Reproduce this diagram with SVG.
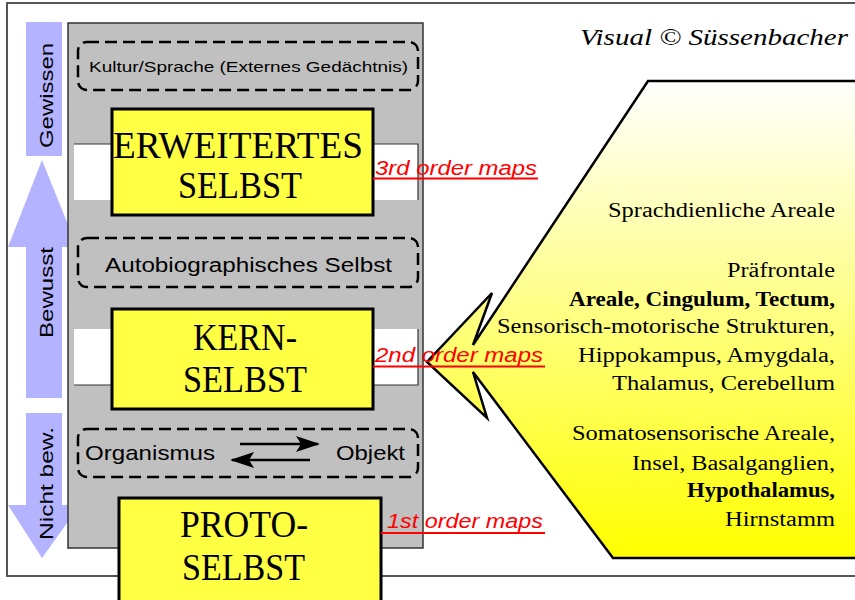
<svg xmlns="http://www.w3.org/2000/svg" width="855" height="600" viewBox="0 0 855 600">
<style>
.sans{font-family:"Liberation Sans",Arial,sans-serif;fill:#000}
.serif{font-family:"Liberation Serif","Times New Roman",serif;fill:#000}
.big{font-family:"Liberation Serif","Times New Roman",serif;font-size:38px;fill:#000}
.red{font-family:"Liberation Sans",Arial,sans-serif;font-style:italic;font-size:20px;fill:#ff0000}
.ul{stroke:#ff0000;stroke-width:2}
.dash{fill:none;stroke:#000;stroke-width:2.5;stroke-dasharray:12 6}
.ybox{fill:#ffff44;stroke:#000;stroke-width:3}
.lav{fill:#b3b3ff}
.area{font-family:"Liberation Serif","Times New Roman",serif;font-size:20px;fill:#000}
</style>
<defs>
<linearGradient id="yg" x1="0" y1="0" x2="0" y2="1">
<stop offset="0" stop-color="#ffffff"/>
<stop offset="1" stop-color="#ffff00"/>
</linearGradient>
<marker id="ah" viewBox="0 0 24 18" refX="22" refY="9" markerWidth="24" markerHeight="18" markerUnits="userSpaceOnUse" orient="auto">
<path d="M0,1 L24,9 L0,17 L5,9 Z" fill="#000"/>
</marker>
</defs>
<rect width="855" height="600" fill="#fff"/>
<path d="M860,3 H7 V576 H860" fill="none" stroke="#555" stroke-width="2"/>

<g id="scale">
<rect class="lav" x="26" y="22" width="36" height="134"/>
<polygon class="lav" points="42,160 8,247 77,247"/>
<rect class="lav" x="26" y="246" width="36" height="152"/>
<rect class="lav" x="26" y="413" width="36" height="93"/>
<polygon class="lav" points="8,505 80,505 42,558"/>
<text class="sans" font-size="19" transform="translate(53,148) rotate(-90)" textLength="105" lengthAdjust="spacingAndGlyphs">Gewissen</text>
<text class="sans" font-size="19" transform="translate(53,338) rotate(-90)" textLength="91" lengthAdjust="spacingAndGlyphs">Bewusst</text>
<text class="sans" font-size="19" transform="translate(53,540) rotate(-90)" textLength="113" lengthAdjust="spacingAndGlyphs">Nicht bew.</text>
</g>

<g id="panel">
<rect x="68" y="23" width="355" height="525" fill="#c0c0c0" stroke="#333" stroke-width="1.5"/>
<rect x="74" y="144" width="344" height="56" fill="#fff"/>
<path d="M74,144 H418 V200" fill="none" stroke="#333" stroke-width="1.2"/>
<rect x="74" y="329" width="344" height="56" fill="#fff"/>
<path d="M74,385 H112 M418,329 V385 H373" fill="none" stroke="#333" stroke-width="1.2"/>
</g>

<g id="kultur">
<rect class="dash" x="78" y="42" width="340" height="48" rx="9"/>
<text class="sans" font-size="15" x="89" y="72" textLength="319" lengthAdjust="spacingAndGlyphs">Kultur/Sprache (Externes Gedächtnis)</text>
</g>

<g id="erweitertes">
<rect class="ybox" x="112" y="109" width="261" height="106"/>
<text class="big" x="113" y="158" textLength="250" lengthAdjust="spacingAndGlyphs">ERWEITERTES</text>
<text class="big" x="178" y="198" textLength="124" lengthAdjust="spacingAndGlyphs">SELBST</text>
</g>

<g id="autobio">
<rect class="dash" x="78" y="238" width="340" height="49" rx="9"/>
<text class="sans" font-size="20" x="105" y="272" textLength="287" lengthAdjust="spacingAndGlyphs">Autobiographisches Selbst</text>
</g>

<g id="kern">
<rect class="ybox" x="112" y="309" width="261" height="100"/>
<text class="big" x="193" y="350" textLength="104" lengthAdjust="spacingAndGlyphs">KERN-</text>
<text class="big" x="183" y="392" textLength="124" lengthAdjust="spacingAndGlyphs">SELBST</text>
</g>

<g id="organismus">
<rect class="dash" x="78" y="429" width="340" height="48" rx="9"/>
<text class="sans" font-size="21" x="85" y="460" textLength="130" lengthAdjust="spacingAndGlyphs">Organismus</text>
<text class="sans" font-size="21" x="336" y="460" textLength="69" lengthAdjust="spacingAndGlyphs">Objekt</text>
</g>

<g id="proto">
<rect class="ybox" x="119" y="498" width="262" height="110"/>
<text class="big" x="180" y="537" textLength="128" lengthAdjust="spacingAndGlyphs">PROTO-</text>
<text class="big" x="182" y="580" textLength="123" lengthAdjust="spacingAndGlyphs">SELBST</text>
</g>

<g id="connectors">
<line x1="240" y1="444" x2="318" y2="444" stroke="#000" stroke-width="2.5" marker-end="url(#ah)"/>
<line x1="310" y1="460" x2="232" y2="460" stroke="#000" stroke-width="2.5" marker-end="url(#ah)"/>
</g>

<g id="areas">
<polygon points="648,81 860,81 860,558 613,558 473,372 487,418 427,362 492,293 473,345" fill="url(#yg)" stroke="#000" stroke-width="2.5" stroke-linejoin="miter"/>
<text class="area" x="608" y="217" textLength="227" lengthAdjust="spacingAndGlyphs">Sprachdienliche Areale</text>
<text class="area" x="727" y="277" textLength="108" lengthAdjust="spacingAndGlyphs">Präfrontale</text>
<text class="area" x="569" y="306" font-weight="bold" textLength="266" lengthAdjust="spacingAndGlyphs">Areale, Cingulum, Tectum,</text>
<text class="area" x="497" y="333" textLength="338" lengthAdjust="spacingAndGlyphs">Sensorisch-motorische Strukturen,</text>
<text class="area" x="578" y="362" textLength="257" lengthAdjust="spacingAndGlyphs">Hippokampus, Amygdala,</text>
<text class="area" x="612" y="390" textLength="223" lengthAdjust="spacingAndGlyphs">Thalamus, Cerebellum</text>
<text class="area" x="572" y="440" textLength="263" lengthAdjust="spacingAndGlyphs">Somatosensorische Areale,</text>
<text class="area" x="632" y="470" textLength="203" lengthAdjust="spacingAndGlyphs">Insel, Basalganglien,</text>
<text class="area" x="687" y="497" font-weight="bold" textLength="148" lengthAdjust="spacingAndGlyphs">Hypothalamus,</text>
<text class="area" x="725" y="526" textLength="110" lengthAdjust="spacingAndGlyphs">Hirnstamm</text>
</g>

<g id="maps">
<text class="red" x="375" y="175" textLength="162" lengthAdjust="spacingAndGlyphs">3rd order maps</text>
<line class="ul" x1="373" y1="178.5" x2="538" y2="178.5"/>
<text class="red" x="375" y="362" textLength="168" lengthAdjust="spacingAndGlyphs">2nd order maps</text>
<line class="ul" x1="373" y1="366.5" x2="545" y2="366.5"/>
<text class="red" x="387" y="528" textLength="156" lengthAdjust="spacingAndGlyphs">1st order maps</text>
<line class="ul" x1="381" y1="533" x2="545" y2="533" stroke-width="4"/>
</g>

<text class="serif" font-style="italic" font-size="24" x="580" y="45" textLength="268" lengthAdjust="spacingAndGlyphs">Visual © Süssenbacher</text>
</svg>
